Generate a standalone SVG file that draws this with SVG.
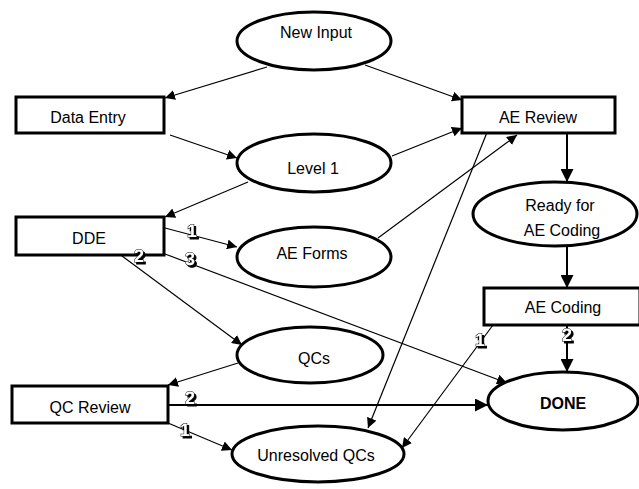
<svg xmlns="http://www.w3.org/2000/svg" width="639" height="489" viewBox="0 0 639 489">
<style>
.n{fill:#fff;stroke:#000;stroke-width:3}
.t{font-family:"Liberation Sans",Arial,sans-serif;font-size:16px;fill:#000;text-anchor:middle}
.c{fill:none;stroke:#000;stroke-width:1.2}
.k{fill:none;stroke:#000;stroke-width:2}
.lb{font-family:"Liberation Sans",Arial,sans-serif;font-size:18px;font-weight:bold;text-anchor:middle;text-rendering:geometricPrecision;fill:#fff;stroke:#000;stroke-width:1;paint-order:stroke;filter:url(#sh)}
</style>
<defs>
<filter id="sh" x="-50%" y="-50%" width="200%" height="200%">
<feDropShadow dx="2" dy="2" stdDeviation="0" flood-color="#000" flood-opacity="1"/>
</filter>
<marker id="ah" viewBox="0 0 10 10" refX="10" refY="5" markerWidth="10" markerHeight="10" markerUnits="userSpaceOnUse" orient="auto">
<path d="M0,0 L10,5 L0,10 Z" fill="#000"/>
</marker>
<marker id="ah2" viewBox="0 0 10 10" refX="10" refY="5" markerWidth="13" markerHeight="13" markerUnits="userSpaceOnUse" orient="auto">
<path d="M0,0 L10,5 L0,10 Z" fill="#000"/>
</marker>
</defs>
<rect width="639" height="489" fill="#fff"/>
<g id="connectors">
<line class="c" x1="267" y1="67" x2="165" y2="98" marker-end="url(#ah)"/>
<line class="c" x1="365" y1="65" x2="462" y2="100" marker-end="url(#ah)"/>
<line class="c" x1="170" y1="135" x2="237" y2="158" marker-end="url(#ah)"/>
<line class="c" x1="392" y1="156" x2="462" y2="128" marker-end="url(#ah)"/>
<line class="c" x1="248" y1="182" x2="165" y2="217" marker-end="url(#ah)"/>
<line class="k" x1="567" y1="133" x2="567" y2="182" marker-end="url(#ah2)"/>
<line class="k" x1="567" y1="247" x2="567" y2="288" marker-end="url(#ah2)"/>
<line class="c" x1="165" y1="228" x2="237" y2="247" marker-end="url(#ah)"/>
<line class="c" x1="118" y1="253" x2="242" y2="345" marker-end="url(#ah)"/>
<line class="c" x1="165" y1="254" x2="507" y2="383" marker-end="url(#ah)"/>
<line class="c" x1="378" y1="238" x2="517" y2="135" marker-end="url(#ah)"/>
<line class="c" x1="488" y1="130" x2="368" y2="428" marker-end="url(#ah)"/>
<line class="c" x1="493" y1="325" x2="402" y2="448" marker-end="url(#ah)"/>
<line class="k" x1="567" y1="326" x2="567" y2="372" marker-end="url(#ah2)"/>
<line class="k" x1="168" y1="405" x2="488" y2="405" marker-end="url(#ah2)"/>
<line class="c" x1="168" y1="423" x2="232" y2="450" marker-end="url(#ah)"/>
<line class="c" x1="238" y1="363" x2="168" y2="385" marker-end="url(#ah)"/>
</g>
<g id="new-input"><ellipse class="n" cx="314" cy="41" rx="77" ry="29"/><text class="t" x="316" y="38">New Input</text></g>
<g id="data-entry"><rect class="n" x="16" y="97" width="148" height="36"/><text class="t" x="88" y="123">Data Entry</text></g>
<g id="ae-review"><rect class="n" x="462" y="97" width="153" height="36"/><text class="t" x="538" y="123">AE Review</text></g>
<g id="level-1"><ellipse class="n" cx="314" cy="163" rx="77" ry="29"/><text class="t" x="313" y="174">Level 1</text></g>
<g id="dde"><rect class="n" x="16" y="217" width="148" height="38"/><text class="t" x="89" y="244">DDE</text></g>
<g id="ae-forms"><ellipse class="n" cx="314" cy="257" rx="77" ry="30"/><text class="t" x="312" y="259">AE Forms</text></g>
<g id="ready"><ellipse class="n" cx="555" cy="214" rx="82" ry="32"/><text class="t" x="560" y="211">Ready for</text><text class="t" x="562" y="236">AE Coding</text></g>
<g id="ae-coding"><rect class="n" x="484" y="288" width="156" height="37"/><text class="t" x="563" y="313">AE Coding</text></g>
<g id="qcs"><ellipse class="n" cx="310" cy="355" rx="73" ry="28"/><text class="t" x="314" y="364">QCs</text></g>
<g id="qc-review"><rect class="n" x="12" y="386" width="156" height="37"/><text class="t" x="90" y="413">QC Review</text></g>
<g id="unresolved"><ellipse class="n" cx="318" cy="454" rx="86" ry="28"/><text class="t" x="316" y="461">Unresolved QCs</text></g>
<g id="done"><ellipse class="n" cx="563" cy="401" rx="75" ry="29"/><text class="t" x="563" y="409" font-weight="bold">DONE</text></g>
<g id="labels">
<text class="lb" x="192" y="237">1</text>
<text class="lb" x="190" y="265">3</text>
<text class="lb" x="139" y="262">2</text>
<text class="lb" x="480" y="346">1</text>
<text class="lb" x="567" y="341">2</text>
<text class="lb" x="190" y="404">2</text>
<text class="lb" x="185" y="436">1</text>
</g>
</svg>
